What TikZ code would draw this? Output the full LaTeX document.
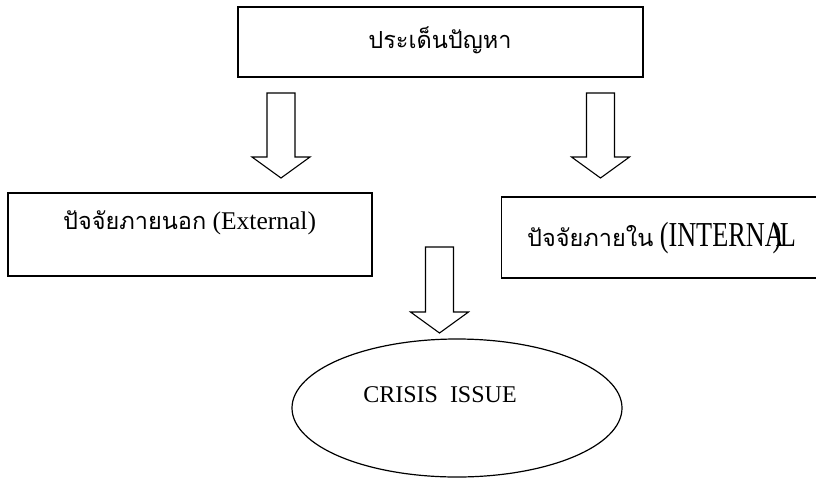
\documentclass[tikz,border=0pt]{standalone}
\usepackage{fontspec}
\usepackage{graphicx}
\setmainfont{Liberation Serif}
\newfontfamily\thaifont[Script=Thai]{Loma}
\usetikzlibrary{positioning,shapes.geometric,calc}

% big hollow arrow from #1 (tail) down to #2 (tip)
\newcommand{\fatarrow}[2]{%
  \draw[hollow] ($(#1)+(-14,0)$) -- ($(#2)+(-14,-21)$) -- ($(#2)+(-29,-21)$)
    -- (#2) -- ($(#2)+(29,-21)$) -- ($(#2)+(14,-21)$) -- ($(#1)+(14,0)$) -- cycle;}

\begin{document}
\begin{tikzpicture}[
          x=1pt,y=-1pt,
          topic/.style={draw,line width=1.3pt,inner sep=0pt},
          issue/.style={ellipse,draw,line width=1.2pt,inner sep=0pt},
          hollow/.style={draw,line width=1.1pt,line join=miter},
          txt/.style={inner sep=0pt,font=\fontsize{25.5}{30}\selectfont},
          thai/.style={font=\fontsize{23.5}{28}\thaifont}
          ]
          \useasboundingbox (0,0) rectangle (816,480);

          % the problem
          \node[topic,minimum width=405pt,minimum height=70pt] (problem) at (440.5,42) {};
          \node[txt,thai] (problemtxt) at (440,40) {ประเด็นปัญหา};

          % the two factors
          \node[topic,minimum width=364pt,minimum height=83pt] (outside) at (190,234.5) {};
          \node[txt,anchor=west] (outsidetxt) at (63,223)
            {{\fontsize{23.5}{28}\thaifont ปัจจัยภายนอก} (External)};
          \node[topic,minimum width=320pt,minimum height=81pt,anchor=west] (inside) at (501,237.5) {};
          \node[txt,anchor=west] (insidetxt) at (527,238)
            {{\fontsize{23.5}{28}\thaifont ปัจจัยภายใน} \scalebox{0.75}[1]{\fontsize{35}{40}\selectfont(INTERNA\kern-0.42em)\kern-0.06em L}};

          % the crisis
          \node[issue,minimum width=330pt,minimum height=138pt] (crisis) at (457,408) {};
          \node[inner sep=0pt,font=\fontsize{24}{28}\selectfont] (crisistxt) at (440,395) {CRISIS\ \ ISSUE};

          % the arrows
          \coordinate (a1) at (281,93);   \coordinate (b1) at (281,178);
          \coordinate (a2) at (600.5,93); \coordinate (b2) at (600.5,178);
          \coordinate (a3) at (439.5,247); \coordinate (b3) at (439.5,333);
          \foreach \i in {1,2,3}
            \fatarrow{a\i}{b\i};
        \end{tikzpicture}
\end{document}
